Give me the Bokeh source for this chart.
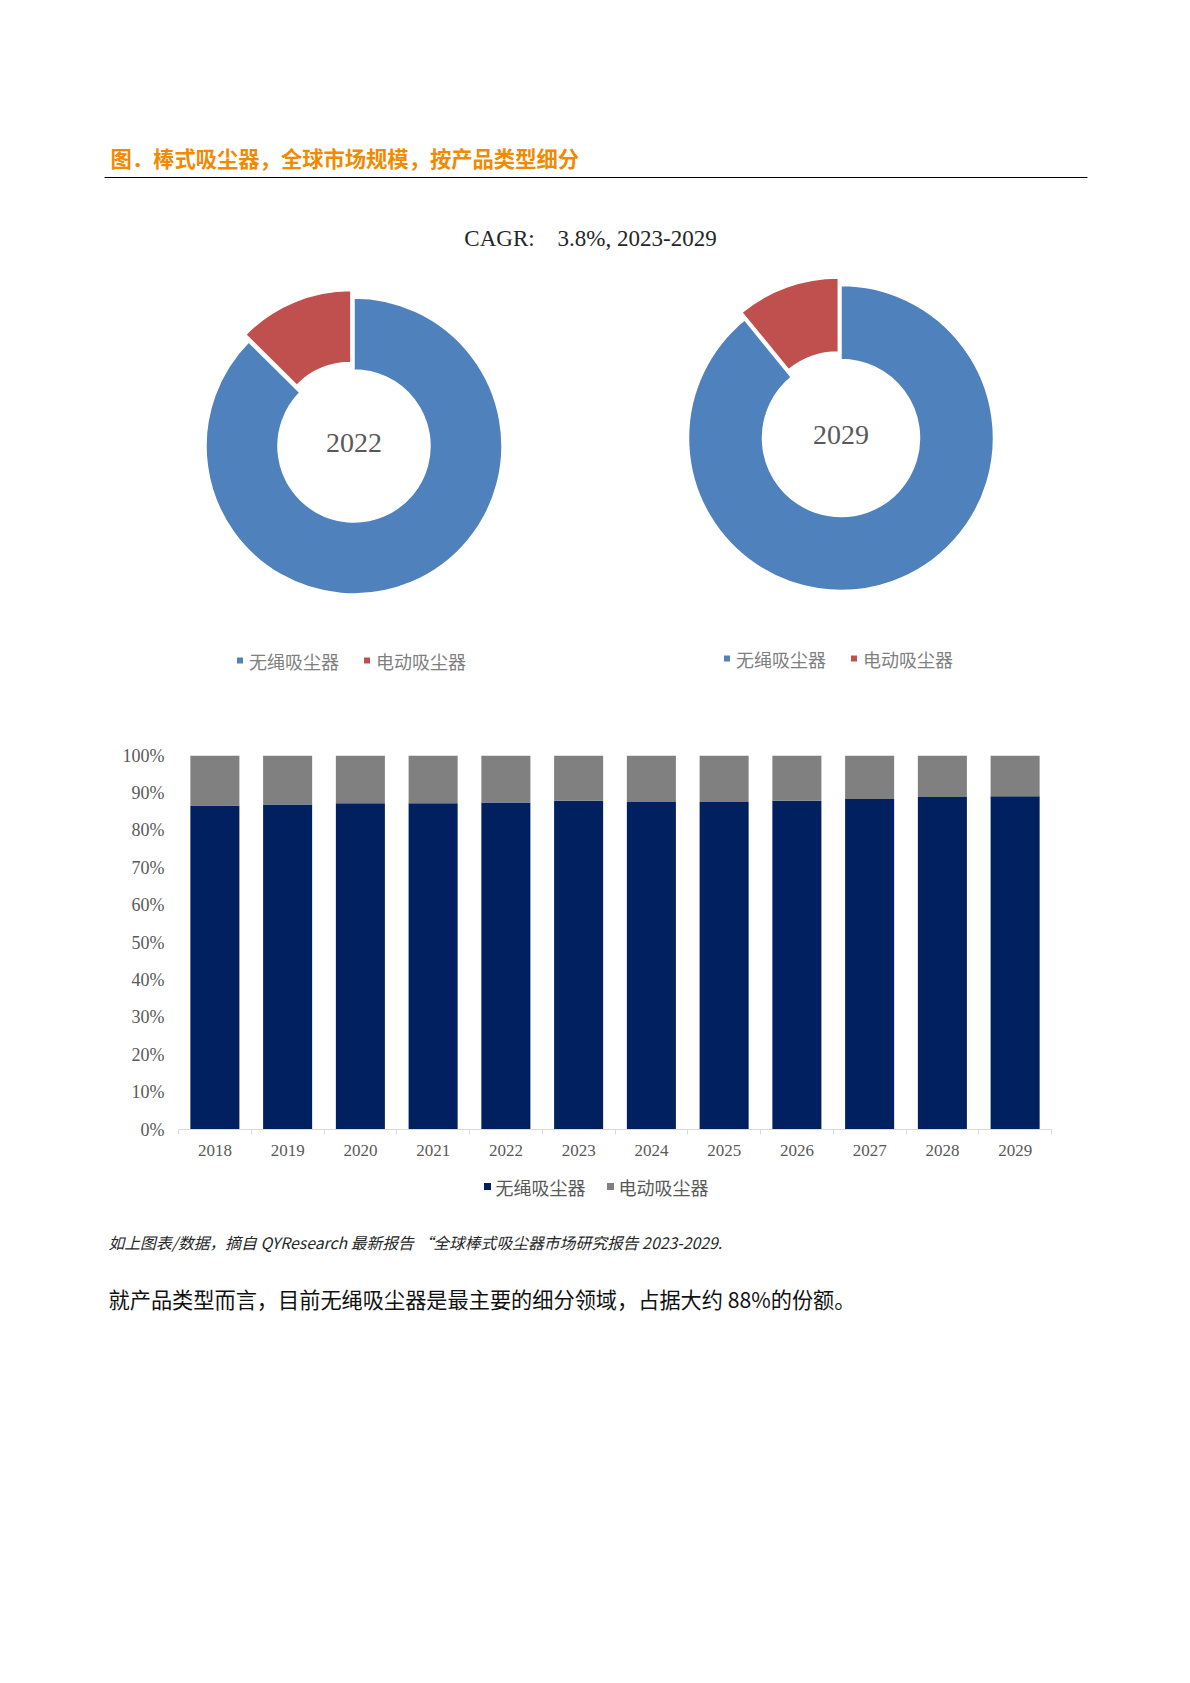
import math
from bokeh.plotting import figure
from bokeh.models import Range1d, ColumnDataSource, FixedTicker, PrintfTickFormatter
from bokeh.core.properties import value
from bokeh.embed import file_html
from bokeh.resources import INLINE

# ---------------- data ----------------
segments = ["无绳吸尘器", "电动吸尘器"]
years = ["2018", "2019", "2020", "2021", "2022", "2023",
         "2024", "2025", "2026", "2027", "2028", "2029"]
cordless_share = [86.6, 86.9, 87.2, 87.2, 87.4, 87.9, 87.6, 87.6, 87.9, 88.4, 88.9, 89.1]
corded_share = [13.4, 13.1, 12.8, 12.8, 12.6, 12.1, 12.4, 12.4, 12.1, 11.6, 11.1, 10.9]
donut_years = ["2022", "2029"]
donut_2022 = [87.4, 12.6]
donut_2029 = [89.1, 10.9]
y_ticks = [0, 10, 20, 30, 40, 50, 60, 70, 80, 90, 100]

title_text = "图．棒式吸尘器，全球市场规模，按产品类型细分"
cagr_text = "CAGR:\u20033.8%, 2023-2029"
note_text = "如上图表/数据，摘自 QYResearch 最新报告 “全球棒式吸尘器市场研究报告 2023-2029."
body_text = "就产品类型而言，目前无绳吸尘器是最主要的细分领域，占据大约 88%的份额。"

# ---------------- styles ----------------
pie_colors = ["#4F81BD", "#C0504D"]
bar_colors = ["#002060", "#808080"]
CJK = value("Noto Sans CJK SC")
SERIF = value("Liberation Serif")
W = 1174


def blank_fig(height):
    f = figure(width=W, height=height, x_range=Range1d(0, W), y_range=Range1d(0, height),
               output_backend="svg", toolbar_location=None, x_axis_location=None,
               y_axis_location=None, min_border=0, outline_line_color=None, title=None,
               background_fill_color="white", border_fill_color="white")
    f.grid.visible = False
    return f


# ---------------- figure 1: title + donuts (page y 0..700) ----------------
TOP1 = 0
H1 = 700


def fy1(py):
    return (TOP1 + H1) - py


f1 = blank_fig(H1)
f1.text(x=[110], y=[fy1(157)], text=[title_text], text_font=CJK, text_font_style="bold",
        text_font_size="21.3px", text_color="#F08A00", text_baseline="middle", text_align="left")
f1.segment(x0=[104], y0=[fy1(177)], x1=[1087], y1=[fy1(177)], line_color="#000000", line_width=1)
f1.text(x=[590], y=[fy1(238)], text=[cagr_text], text_font=SERIF, text_font_size="23px",
        text_color="#262626", text_baseline="middle", text_align="center")

donuts = [(donut_years[0], donut_2022, 353.5, 445.5, 148, 76, 660),
          (donut_years[1], donut_2029, 840.5, 437.5, 152.5, 78.5, 658)]
for label, shares, cx, cpy, r_out, r_in, leg_py in donuts:
    cy = fy1(cpy)
    total = sum(shares)
    cum = 0.0
    for i, s in enumerate(shares):
        end = math.pi / 2 - 2 * math.pi * cum / total
        start = math.pi / 2 - 2 * math.pi * (cum + s) / total
        cum += s
        dx = dy = 0.0
        if i == 1:
            mid = (start + end) / 2
            dx, dy = 8 * math.cos(mid), 8 * math.sin(mid)
        f1.annular_wedge(x=[cx + dx], y=[cy + dy], inner_radius=r_in, outer_radius=r_out,
                         start_angle=start, end_angle=end, direction="anticlock",
                         fill_color=pie_colors[i], line_color="white", line_width=1.5)
    f1.text(x=[cx], y=[cy + 3], text=[label], text_font=SERIF, text_font_size="28px",
            text_color="#595959", text_baseline="middle", text_align="center")
    # legend under the donut
    lx = cx - 114
    ly = fy1(leg_py)
    for i, seg in enumerate(segments):
        mx = lx + i * 127
        f1.scatter(x=[mx], y=[ly], marker="square", size=6, fill_color=pie_colors[i],
                   line_color=None)
        f1.text(x=[mx + 9], y=[ly], text=[seg], text_font=CJK, text_font_size="18px",
                text_color="#7F7F7F", text_baseline="middle", text_align="left")

# ---------------- figure 2: stacked bar chart (page y 700..1175) ----------------
H2 = 475
f2 = figure(width=W, height=H2, x_range=Range1d(0, len(years)), y_range=Range1d(0, 100),
            output_backend="svg", toolbar_location=None, title=None,
            min_border_left=178, min_border_right=W - 1051, min_border_top=55,
            min_border_bottom=46,
            outline_line_color=None, background_fill_color="white", border_fill_color="white")
f2.grid.visible = False

src = ColumnDataSource(dict(x=[i + 0.5 for i in range(len(years))],
                            cordless=cordless_share, corded=corded_share))
rs = f2.vbar_stack(["cordless", "corded"], x="x", width=0.674, color=bar_colors,
                   source=src, line_color=None)

f2.yaxis.ticker = FixedTicker(ticks=y_ticks)
f2.yaxis.formatter = PrintfTickFormatter(format="%d%%")
f2.yaxis.axis_line_color = None
f2.yaxis.major_tick_line_color = None
f2.yaxis.minor_tick_line_color = None
f2.yaxis.major_tick_out = 0
f2.yaxis.major_tick_in = 0
f2.yaxis.major_label_standoff = 14
f2.yaxis.major_label_text_font = "Liberation Serif"
f2.yaxis.major_label_text_font_size = "18px"
f2.yaxis.major_label_text_color = "#595959"

f2.xaxis.ticker = FixedTicker(ticks=[i + 0.5 for i in range(len(years))],
                              minor_ticks=list(range(len(years) + 1)))
f2.xaxis.major_label_overrides = {i + 0.5: y for i, y in enumerate(years)}
f2.xaxis.axis_line_color = "#D9D9D9"
f2.xaxis.major_tick_line_color = None
f2.xaxis.major_tick_out = 0
f2.xaxis.major_tick_in = 0
f2.xaxis.minor_tick_line_color = "#D9D9D9"
f2.xaxis.minor_tick_out = 5
f2.xaxis.minor_tick_in = 0
f2.xaxis.major_label_standoff = 10
f2.xaxis.major_label_text_font = "Liberation Serif"
f2.xaxis.major_label_text_font_size = "17px"
f2.xaxis.major_label_text_color = "#595959"

# ---------------- figure 3: bar legend + notes (page y 1175..1340) ----------------
TOP3 = H1 + H2
H3 = 165


def fy3(py):
    return (TOP3 + H3) - py


f3 = blank_fig(H3)
bx = 487
for i, seg in enumerate(segments):
    mx = bx + i * 123
    f3.scatter(x=[mx], y=[fy3(1186)], marker="square", size=7, fill_color=bar_colors[i],
               line_color=None)
    f3.text(x=[mx + 8], y=[fy3(1186)], text=[seg], text_font=CJK, text_font_size="18px",
            text_color="#595959", text_baseline="middle", text_align="left")

f3.text(x=[108], y=[fy3(1242)], text=[note_text], text_font=CJK, text_font_style="italic",
        text_font_size="15.8px", text_color="#262626", text_baseline="middle", text_align="left")
f3.text(x=[108], y=[fy3(1298)], text=[body_text], text_font=CJK,
        text_font_size="21.2px", text_color="#111111", text_baseline="middle", text_align="left")

open("out.html", "w").write(file_html([f1, f2, f3], INLINE))
